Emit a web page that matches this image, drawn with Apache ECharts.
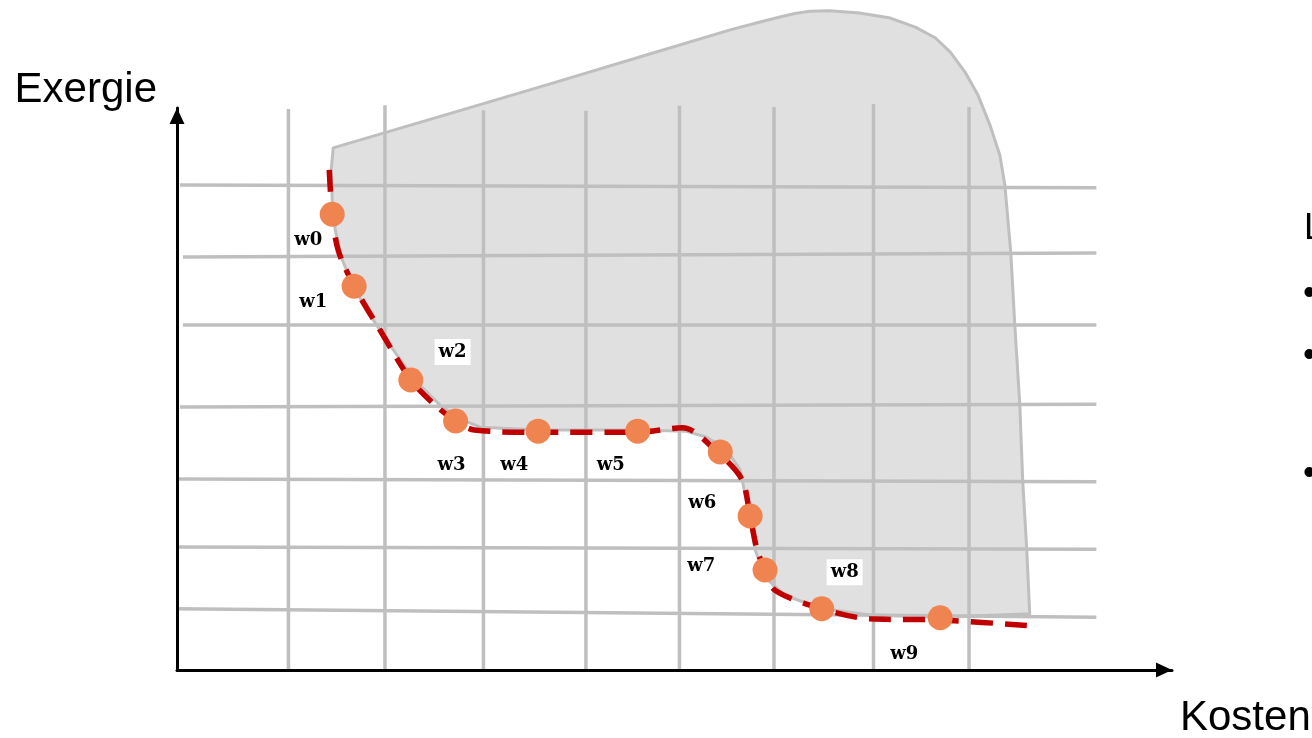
<!DOCTYPE html>
<html><head><meta charset="utf-8">
<script src="https://cdn.jsdelivr.net/npm/echarts@6/dist/echarts.min.js"></script>
<style>html,body{margin:0;padding:0;background:#fff}#c{width:1312px;height:738px}</style>
</head><body><div id="c"></div>
<script>
// Pareto points (abstract units: Kosten 0..100, Exergie 0..100)
const pointX = [15.6, 17.8, 23.5, 28.0, 36.3, 46.3, 54.6, 57.6, 59.1, 64.8, 76.7];
const pointY = [81.1, 68.3, 51.6, 44.3, 42.5, 42.5, 38.8, 27.4, 17.8, 10.9, 9.3];

// point labels
const labelNames = ['w0','w1','w2','w3','w4','w5','w6','w7','w8','w9'];
const labelX = [13.2, 13.7, 27.7, 27.6, 33.9, 43.6, 52.8, 52.7, 67.1, 73.1];
const labelY = [76.5, 65.5, 56.6, 36.5, 36.5, 36.5, 29.7, 18.5, 17.4, 2.7];
const boxedLabels = ['w2','w8'];

// red dashed pareto front
const frontX = [15.3, 15.6, 16.2, 17.8, 20.4, 23.5, 25.9, 28.0, 29.9, 36.3, 46.3, 50.8, 54.6, 56.8, 57.6, 58.3, 59.1, 60.1, 64.8, 69.6, 76.7, 86.4];
const frontY = [89.0, 81.1, 74.7, 68.3, 60.5, 51.6, 47.2, 44.3, 42.7, 42.3, 42.3, 43.1, 38.3, 33.8, 27.4, 21.4, 17.8, 14.2, 10.9, 9.1, 8.9, 7.8];

// feasible region outline (top edge, right edge, then back along the front)
const regionX = [15.7, 27.4, 37.5, 47.5, 55.6, 58.6, 60.6, 62.1, 63.6, 65.6, 68.6, 71.7, 74.2, 76.2, 77.7, 79.2, 80.5, 81.7, 82.7, 83.2, 83.8, 84.2, 84.7, 85.0, 85.4, 85.7,
                 76.7, 69.6, 64.6, 61.1, 59.1, 58.1, 57.4, 56.6, 55.1, 53.1, 51.1, 46.5, 36.5, 30.5, 28.4, 26.4, 23.9, 21.6, 19.6, 17.9, 16.6, 15.9, 15.6, 15.5];
const regionY = [92.9, 99.0, 104.3, 109.6, 113.9, 115.3, 116.2, 116.8, 117.2, 117.3, 116.9, 116.0, 114.4, 112.5, 110.0, 106.4, 102.3, 97.0, 91.6, 86.3, 74.2, 61.4, 47.3, 33.5, 21.5, 10.0,
                 9.4, 9.8, 11.0, 13.3, 16.5, 21.4, 28.5, 35.6, 39.5, 41.5, 42.5, 42.7, 42.7, 43.2, 44.7, 47.2, 51.6, 57.3, 62.6, 67.6, 73.0, 78.3, 83.6, 89.0];

// hand-drawn grid lines
const gridVX = [11.2, 20.9, 30.8, 41.1, 50.5, 60.0, 70.0, 79.6];
const gridVTop = [99.8, 100.5, 99.6, 99.5, 100.4, 100.2, 100.7, 100.2];
const gridHLeftY = [86.3, 73.5, 61.4, 46.8, 34.0, 21.9, 10.9];
const gridHRightY = [85.8, 74.2, 61.4, 47.3, 33.5, 21.5, 9.4];
const gridHStartX = [0.3, 0.6, 0.6, 0.3, -0.1, -0.1, -0.1];
const gridHEndX = 92.4;

const GRID_COLOR = '#bfbfbf';
const series = [];

series.push({
  type: 'custom', z: 1, silent: true,
  data: [[0, 0]],
  renderItem: function (params, api) {
    const pts = regionX.map((x, i) => api.coord([x, regionY[i]]));
    return { type: 'polygon', shape: { points: pts },
      style: { fill: '#e0e0e0', stroke: GRID_COLOR, lineWidth: 3, lineJoin: 'round' } };
  }
});

gridVX.forEach((x, i) => series.push({
  type: 'line', z: 2, clip: false, silent: true, symbol: 'none',
  lineStyle: { color: GRID_COLOR, width: 3.5 },
  data: [[x, 0], [x, gridVTop[i]]]
}));
gridHLeftY.forEach((y, i) => series.push({
  type: 'line', z: 2, clip: false, silent: true, symbol: 'none',
  lineStyle: { color: GRID_COLOR, width: 3.5 },
  data: [[gridHStartX[i], y], [gridHEndX, gridHRightY[i]]]
}));

series.push({
  type: 'line', z: 4, clip: false, symbol: 'none', smooth: 0.3,
  lineStyle: { color: '#c00000', width: 5.5, type: [22, 12] },
  data: frontX.map((x, i) => [x, frontY[i]])
});

series.push({
  type: 'scatter', z: 5, clip: false, symbolSize: 25,
  itemStyle: { color: '#ef8450', opacity: 1 },
  data: pointX.map((x, i) => [x, pointY[i]])
});

series.push({
  type: 'scatter', z: 6, clip: false, symbolSize: 1,
  itemStyle: { color: 'rgba(255,255,255,0)' },
  label: { show: true, position: 'inside', formatter: '{b}', opacity: 1,
    textBorderWidth: 0, fontFamily: 'DejaVu Serif', fontWeight: 'bold', fontSize: 18, color: '#000' },
  data: labelNames.map((n, i) => {
    const d = { name: n, value: [labelX[i], labelY[i]] };
    if (boxedLabels.includes(n)) d.label = { backgroundColor: '#fff', padding: [4, 4] };
    return d;
  })
});

const chart = echarts.init(document.getElementById('c'));
chart.setOption({
  animation: false,
  backgroundColor: '#fff',
  grid: { left: 177, right: 140, top: 108, bottom: 68 },
  xAxis: {
    type: 'value', min: 0, max: 100,
    axisLine: { show: true, lineStyle: { color: '#000', width: 3 }, symbol: ['none', 'triangle'], symbolSize: [15, 16], symbolOffset: [0, -8] },
    axisTick: { show: false }, axisLabel: { show: false }, splitLine: { show: false }, z: 10
  },
  yAxis: {
    type: 'value', min: 0, max: 100,
    axisLine: { show: true, lineStyle: { color: '#000', width: 3 }, symbol: ['none', 'triangle'], symbolSize: [15, 16], symbolOffset: [0, -8] },
    axisTick: { show: false }, axisLabel: { show: false }, splitLine: { show: false }, z: 10
  },
  graphic: [
    { type: 'text', x: 157, y: 90, style: { text: 'Exergie', font: '42px "Liberation Sans"', fill: '#000', textAlign: 'right', textVerticalAlign: 'middle' } },
    { type: 'text', x: 1180, y: 718, style: { text: 'Kosten', font: '42px "Liberation Sans"', fill: '#000', textAlign: 'left', textVerticalAlign: 'middle' } },
    { type: 'text', x: 1304, y: 229, style: { text: 'L', font: '36px "Liberation Sans"', fill: '#000', textVerticalAlign: 'middle' } },
    { type: 'text', x: 1303, y: 294, style: { text: '•', font: '36px "Liberation Sans"', fill: '#000', textVerticalAlign: 'middle' } },
    { type: 'text', x: 1303, y: 356, style: { text: '•', font: '36px "Liberation Sans"', fill: '#000', textVerticalAlign: 'middle' } },
    { type: 'text', x: 1303, y: 474, style: { text: '•', font: '36px "Liberation Sans"', fill: '#000', textVerticalAlign: 'middle' } }
  ],
  series: series
});
</script></body></html>
